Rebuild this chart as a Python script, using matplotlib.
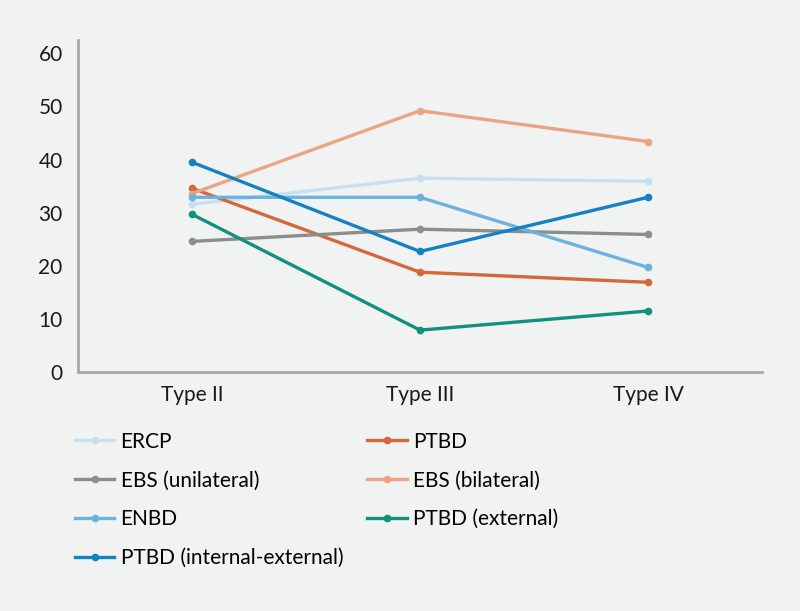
import matplotlib
matplotlib.use("Agg")
from matplotlib import pyplot as plt

# Data
categories = ["Type II", "Type III", "Type IV"]

ercp = [31.6, 36.5, 35.9]
ptbd = [34.6, 18.8, 16.9]
ebs_unilateral = [24.6, 26.9, 25.9]
ebs_bilateral = [33.6, 49.2, 43.4]
enbd = [32.9, 32.9, 19.7]
ptbd_external = [29.7, 7.9, 11.5]
ptbd_internal_external = [39.5, 22.7, 32.9]

y_ticks = [0, 10, 20, 30, 40, 50, 60]

BG = "#f1f2f2"


def main() -> None:
    plt.rcParams["font.family"] = ["Lato", "DejaVu Sans"]

    fig = plt.figure(figsize=(8.0, 6.11), dpi=100, facecolor=BG)
    ax = fig.add_axes([0.0975, 0.391, 0.855, 0.5435], facecolor=BG)

    x = list(range(len(categories)))
    series = [
        ("ERCP", ercp, "#c6dff1"),
        ("PTBD", ptbd, "#d5683a"),
        ("EBS (unilateral)", ebs_unilateral, "#8d8d8d"),
        ("EBS (bilateral)", ebs_bilateral, "#eaa584"),
        ("ENBD", enbd, "#6cb2de"),
        ("PTBD (external)", ptbd_external, "#12907e"),
        ("PTBD (internal-external)", ptbd_internal_external, "#1581c4"),
    ]
    handles = {}
    for name, values, color in series:
        (line,) = ax.plot(x, values, color=color, linewidth=2.4, marker="o",
                          markersize=4.5, label=name)
        handles[name] = line

    ax.set_xlim(-0.5, 2.5)
    ax.set_ylim(0, 62.5)
    ax.set_xticks(x)
    ax.set_xticklabels(categories)
    ax.set_yticks(y_ticks)
    ax.tick_params(length=0, labelsize=15, colors="#1a1a1a")
    ax.tick_params(axis="y", pad=11)
    ax.tick_params(axis="x", pad=9)
    for side in ["top", "right"]:
        ax.spines[side].set_visible(False)
    for side in ["left", "bottom"]:
        ax.spines[side].set_color("#aaaaaa")
        ax.spines[side].set_linewidth(2.0)

    # matplotlib fills legend columns first, so order for row-wise reading
    order = ["ERCP", "EBS (unilateral)", "ENBD", "PTBD (internal-external)",
             "PTBD", "EBS (bilateral)", "PTBD (external)"]
    fig.legend([handles[n] for n in order], order, ncol=2, frameon=False,
               loc="upper left", bbox_to_anchor=(0.07, 0.324),
               fontsize=15, handlelength=1.9, handletextpad=0.3,
               labelspacing=0.9, columnspacing=1.15)

    fig.savefig("out.png", dpi=100, facecolor=BG)


if __name__ == "__main__":
    main()
